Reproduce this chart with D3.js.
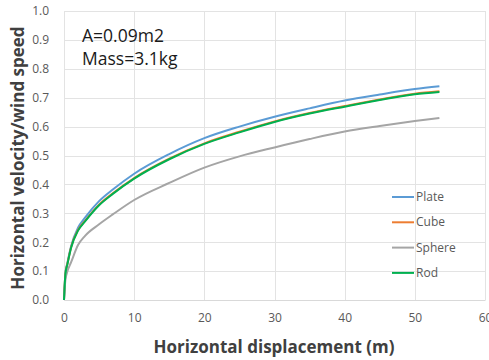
<!DOCTYPE html>
<html>
<head>
<meta charset="utf-8">
<script src="https://cdn.jsdelivr.net/npm/d3@7"></script>
<style>
  body { margin: 0; background: #fff; }
  text { font-family: "Open Sans", "Noto Sans", sans-serif; }
</style>
</head>
<body>
<svg id="chart"></svg>
<script>
// Data
const xValues = [0, 0.2, 0.5, 1, 2, 3, 5, 7, 10, 15, 20, 25, 30, 35, 40, 45, 50, 53.5];
const plate  = [0, 0.09, 0.13, 0.185, 0.25, 0.285, 0.342, 0.383, 0.437, 0.505, 0.56, 0.60, 0.634, 0.663, 0.69, 0.711, 0.73, 0.74];
const cube   = [0, 0.09, 0.127, 0.182, 0.242, 0.274, 0.33, 0.37, 0.422, 0.489, 0.542, 0.582, 0.618, 0.647, 0.671, 0.694, 0.714, 0.722];
const sphere = [0, 0.07, 0.10, 0.13, 0.19, 0.222, 0.262, 0.297, 0.346, 0.405, 0.458, 0.497, 0.528, 0.557, 0.583, 0.602, 0.619, 0.63];
const rod    = [0, 0.09, 0.125, 0.18, 0.24, 0.272, 0.328, 0.368, 0.42, 0.487, 0.54, 0.58, 0.616, 0.645, 0.669, 0.692, 0.712, 0.72];
const seriesNames = ["Plate", "Cube", "Sphere", "Rod"];
const seriesData = [plate, cube, sphere, rod];
const colors = ["#5b9bd5", "#ed7d31", "#a5a5a5", "#00b050"];
const xTicks = [0, 10, 20, 30, 40, 50, 60];
const yTicks = [0, 0.1, 0.2, 0.3, 0.4, 0.5, 0.6, 0.7, 0.8, 0.9, 1.0];
const notes = ["A=0.09m2", "Mass=3.1kg"];

const svgWidth = 489;
const svgHeight = 360;
const margin = { top: 11, right: 4, bottom: 60, left: 64 };
const width = 485 - margin.left;
const height = 300 - margin.top;

const svg = d3.select("#chart")
    .attr("width", svgWidth)
    .attr("height", svgHeight);

const chart = svg.append("g")
    .attr("transform", `translate(${margin.left},${margin.top})`);

const xScale = d3.scaleLinear().domain([0, 60]).range([0, width]);
const yScale = d3.scaleLinear().domain([0, 1]).range([height, 0]);

// Gridlines
chart.append("g")
    .selectAll("line.h")
    .data(yTicks)
    .enter().append("line")
    .attr("x1", 0).attr("x2", width)
    .attr("y1", d => Math.round(yScale(d)) + 0.5)
    .attr("y2", d => Math.round(yScale(d)) + 0.5)
    .attr("stroke", "#e3e3e3");

chart.append("g")
    .selectAll("line.v")
    .data(xTicks)
    .enter().append("line")
    .attr("y1", 0).attr("y2", height)
    .attr("x1", d => Math.round(xScale(d)) + 0.5)
    .attr("x2", d => Math.round(xScale(d)) + 0.5)
    .attr("stroke", "#e3e3e3");

// Axes (labels only)
const xAxis = chart.append("g")
    .attr("transform", `translate(0,${height})`)
    .call(d3.axisBottom(xScale).tickValues(xTicks).tickSize(0).tickPadding(13));
xAxis.select(".domain").attr("stroke", "#d9d9d9");
xAxis.selectAll("text").attr("fill", "#595959").style("font-size", "12px");

const yAxis = chart.append("g")
    .call(d3.axisLeft(yScale).tickValues(yTicks).tickFormat(d3.format(".1f")).tickSize(0).tickPadding(15));
yAxis.select(".domain").remove();
yAxis.selectAll("text").attr("fill", "#595959").style("font-size", "12px");

// Lines
const line = d3.line()
    .x((d, i) => xScale(xValues[i]))
    .y(d => yScale(d))
    .curve(d3.curveMonotoneX);

chart.selectAll(".series")
    .data(seriesData)
    .enter().append("path")
    .attr("class", "series")
    .attr("d", d => line(d))
    .attr("fill", "none")
    .attr("stroke", (d, i) => colors[i])
    .attr("stroke-width", 2);

// Annotation
svg.append("g")
    .selectAll("text")
    .data(notes)
    .enter().append("text")
    .attr("x", 82)
    .attr("y", (d, i) => 42 + i * 23)
    .attr("fill", "#1a1a1a")
    .style("font-size", "17.5px")
    .text(d => d);

// Legend
const legend = svg.append("g").attr("transform", "translate(392,197)");
seriesNames.forEach((name, i) => {
    const row = legend.append("g").attr("transform", `translate(0,${i * 25.3})`);
    row.append("line")
        .attr("x1", 0).attr("x2", 22)
        .attr("stroke", colors[i]).attr("stroke-width", 2);
    row.append("text")
        .attr("x", 24).attr("y", 4)
        .attr("fill", "#595959")
        .style("font-size", "12px")
        .text(name);
});

// Axis titles
svg.append("text")
    .attr("x", 274).attr("y", 353)
    .attr("text-anchor", "middle")
    .attr("fill", "#404040")
    .style("font-size", "17px").style("font-weight", "bold")
    .text("Horizontal displacement (m)");

svg.append("text")
    .attr("transform", "translate(24,158) rotate(-90)")
    .attr("text-anchor", "middle")
    .attr("fill", "#404040")
    .style("font-size", "17px").style("font-weight", "bold")
    .text("Horizontal velocity/wind speed");
</script>
</body>
</html>
